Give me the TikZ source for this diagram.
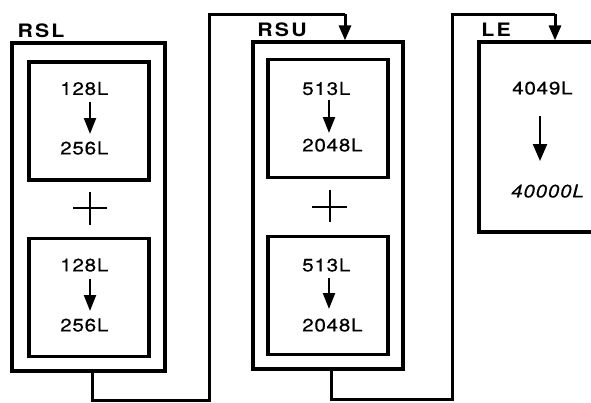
\documentclass[tikz,border=0pt]{standalone}
\usepackage{fontspec}
\setmainfont{TeX Gyre Heros}
\usetikzlibrary{arrows.meta,calc}
\tikzset{
  outerbox/.style={draw, line width=3.2pt, rectangle, inner sep=0pt},
  innerbox/.style={draw, line width=3.4pt, rectangle, inner sep=0pt, minimum width=120pt, minimum height=118pt},
  num/.style={font=\fontsize{18}{20}\selectfont\addfontfeature{FakeStretch=1.15,LetterSpace=4,FakeBold=0.4}, inner sep=0pt, anchor=west},
  numit/.style={font=\fontsize{18}{20}\selectfont\itshape\addfontfeature{FakeStretch=1.15,LetterSpace=4,FakeBold=0.4}, inner sep=0pt, anchor=west},
  lbl/.style={font=\fontsize{18.5}{20}\selectfont\bfseries\addfontfeature{FakeStretch=1.15,LetterSpace=12}, inner sep=0pt},
  down/.style={line width=2.2pt, -{Triangle[width=12pt,length=16pt]}},
  bigdown/.style={line width=2.4pt, -{Triangle[width=14pt,length=17pt]}},
  link/.style={line width=3pt},
  linkarrow/.style={line width=3pt, -{Triangle[width=12pt,length=15pt]}},
  plus/.style={line width=2.4pt}
}
\begin{document}
\begin{tikzpicture}[x=1pt,y=-1pt]
\useasboundingbox (0,0) rectangle (591,402);
\clip (0,0) rectangle (591,402);
% labels
\node[lbl] (lrsl) at (41,31) {RSL};
\node[lbl] (lrsu) at (282,30) {RSU};
\node[lbl] (lle) at (496,30) {LE};
% outer boxes
\node[outerbox, minimum width=153pt, minimum height=328pt] (rsl) at (88.5,207) {};
\node[outerbox, minimum width=150pt, minimum height=327pt] (rsu) at (328,205.5) {};
\node[outerbox, minimum width=130pt, minimum height=190pt] (le) at (544,137) {};
% RSL inner
\node[innerbox] (rsl1) at (89,121) {};
\node[num] (a1) at (60,88.5) {128L};
\node[num] (a2) at (60,148) {256L};
\coordinate (a1t) at (90,102);
\coordinate (a1b) at (90,134);
\draw[down] (a1t) -- (a1b);
\draw[plus] (73,208) -- (107,208);
\draw[plus] (90,192) -- (90,225);
\node[innerbox] (rsl2) at (89,297.5) {};
\node[num] (a3) at (60,265) {128L};
\node[num] (a4) at (60,325) {256L};
\coordinate (a3t) at (90,279);
\coordinate (a3b) at (90,311);
\draw[down] (a3t) -- (a3b);
% RSU inner
\node[innerbox] (rsu1) at (328,118.5) {};
\node[num] (b1) at (302,88.5) {513L};
\node[num] (b2) at (302,145) {2048L};
\coordinate (b1t) at (329,100);
\coordinate (b1b) at (329,133);
\draw[down] (b1t) -- (b1b);
\draw[plus] (312,207) -- (347,207);
\draw[plus] (330,190) -- (330,222);
\node[innerbox] (rsu2) at (328,295.5) {};
\node[num] (b3) at (302,265) {513L};
\node[num] (b4) at (302,325) {2048L};
\coordinate (b3t) at (329,278);
\coordinate (b3b) at (329,309);
\draw[down] (b3t) -- (b3b);
% LE inner text
\node[num] (c1) at (512,88) {4049L};
\node[numit] (c2) at (511,191) {40000L};
\coordinate (c1t) at (540,116);
\coordinate (c1b) at (540,161);
\draw[bigdown] (c1t) -- (c1b);
% connectors
\coordinate (p1) at (92,400);
\coordinate (p2) at (209,14);
\coordinate (p3) at (345,14);
\draw[link] (rsl.south -| p1) |- (209,400) -- (p2) -- (p3);
\draw[linkarrow] (p3) -- (p3 |- rsu.north);
\coordinate (q1) at (331,399);
\coordinate (q2) at (452,14);
\coordinate (q3) at (555,14);
\draw[link] (rsu.south -| q1) |- (452,399) -- (q2) -- (q3);
\draw[linkarrow] (q3) -- (q3 |- le.north);
\end{tikzpicture}
\end{document}
